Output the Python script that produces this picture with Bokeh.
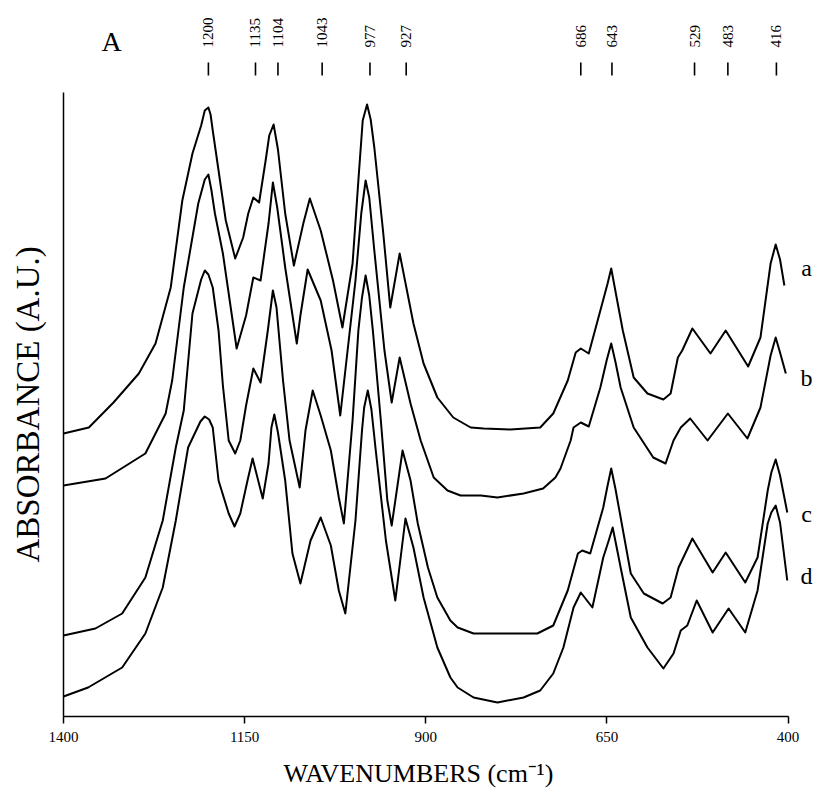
import math
from bokeh.plotting import figure
from bokeh.models import Range1d, FixedTicker, Title
from bokeh.embed import file_html
from bokeh.resources import INLINE
from bokeh.core.properties import value

# ---------------- data ----------------
wn_a = [1400, 1365, 1331, 1296, 1273, 1252, 1236, 1222, 1210, 1205,
        1200, 1197, 1194, 1186, 1176, 1163, 1152, 1145, 1138, 1130,
        1121, 1116, 1110, 1104, 1094, 1082, 1069, 1060, 1045, 1028,
        1015, 1001, 993, 987, 981, 976, 971, 959, 949, 936,
        917, 903, 884, 862, 838, 820, 783, 742, 724, 704,
        693, 686, 675, 659, 649, 644, 635, 628, 613, 594,
        572, 562, 552, 546, 532, 507, 486, 455, 438, 424,
        417, 411, 405]
abs_a = [2.74, 2.80, 3.05, 3.34, 3.64, 4.20, 5.07, 5.54, 5.82, 5.97,
         6.00, 5.93, 5.77, 5.37, 4.87, 4.49, 4.70, 4.94, 5.10, 5.05,
         5.47, 5.72, 5.83, 5.58, 4.94, 4.42, 4.84, 5.09, 4.77, 4.27,
         3.80, 4.44, 5.27, 5.87, 6.03, 5.88, 5.60, 4.77, 4.00, 4.54,
         3.84, 3.44, 3.10, 2.90, 2.80, 2.79, 2.78, 2.80, 2.94, 3.27,
         3.55, 3.59, 3.54, 3.97, 4.24, 4.39, 4.04, 3.77, 3.30, 3.14,
         3.08, 3.14, 3.50, 3.57, 3.79, 3.54, 3.77, 3.41, 3.70, 4.44,
         4.63, 4.48, 4.22]

wn_b = [1400, 1342, 1287, 1259, 1250, 1234, 1214, 1205, 1200, 1196,
        1191, 1180, 1161, 1148, 1138, 1128, 1117, 1111, 1105, 1094,
        1078, 1073, 1063, 1045, 1030, 1018, 997, 989, 983, 978,
        971, 957, 947, 936, 921, 907, 889, 870, 852, 824,
        801, 765, 738, 721, 714, 700, 696, 686, 675, 659,
        650, 644, 638, 631, 613, 586, 569, 558, 548, 535,
        511, 483, 456, 438, 424, 417, 411, 403]
abs_b = [2.22, 2.29, 2.54, 2.94, 3.27, 4.20, 5.04, 5.28, 5.33, 5.18,
         4.94, 4.54, 3.59, 3.92, 4.30, 4.27, 4.84, 5.25, 5.00, 4.40,
         3.64, 3.92, 4.38, 4.07, 3.57, 2.92, 4.27, 4.94, 5.27, 5.10,
         4.57, 3.57, 3.05, 3.50, 3.04, 2.67, 2.30, 2.17, 2.12, 2.12,
         2.10, 2.14, 2.19, 2.30, 2.39, 2.67, 2.80, 2.85, 2.81, 3.20,
         3.48, 3.64, 3.45, 3.20, 2.80, 2.50, 2.44, 2.67, 2.80, 2.89,
         2.67, 2.94, 2.69, 3.00, 3.52, 3.70, 3.55, 3.34]

wn_c = [1400, 1356, 1319, 1287, 1263, 1245, 1234, 1222, 1210, 1205,
        1200, 1194, 1186, 1180, 1172, 1163, 1156, 1148, 1138, 1128,
        1118, 1111, 1106, 1097, 1088, 1074, 1066, 1056, 1045, 1031,
        1020, 1013, 1001, 993, 988, 983, 978, 973, 962, 953,
        947, 932, 921, 911, 897, 884, 866, 856, 834, 787,
        746, 724, 704, 690, 684, 673, 655, 649, 644, 638,
        631, 617, 599, 573, 562, 551, 532, 504, 486, 459,
        442, 428, 423, 417, 411, 401]
abs_c = [0.72, 0.79, 0.94, 1.30, 1.87, 2.60, 2.97, 3.94, 4.28, 4.37,
         4.33, 4.20, 3.77, 3.22, 2.67, 2.54, 2.67, 3.02, 3.39, 3.25,
         3.77, 4.17, 4.00, 3.27, 2.67, 2.20, 2.77, 3.17, 2.92, 2.57,
         2.10, 1.84, 2.87, 3.77, 4.10, 4.32, 4.12, 3.77, 2.87, 2.07,
         1.82, 2.57, 2.27, 1.84, 1.40, 1.10, 0.87, 0.80, 0.74, 0.74,
         0.74, 0.82, 1.17, 1.54, 1.57, 1.54, 2.00, 2.22, 2.39, 2.18,
         1.90, 1.34, 1.14, 1.04, 1.10, 1.40, 1.69, 1.35, 1.55, 1.25,
         1.50, 2.17, 2.35, 2.48, 2.32, 1.95]

wn_d = [1400, 1366, 1319, 1287, 1263, 1245, 1228, 1211, 1205, 1199,
        1194, 1186, 1172, 1164, 1156, 1146, 1139, 1125, 1117, 1113,
        1109, 1104, 1094, 1084, 1073, 1059, 1045, 1031, 1020, 1011,
        997, 988, 985, 980, 975, 969, 955, 942, 928, 917,
        903, 884, 866, 856, 834, 801, 765, 742, 724, 710,
        696, 686, 670, 655, 647, 642, 637, 631, 617, 594,
        572, 558, 548, 539, 526, 504, 482, 459, 442, 428,
        423, 417, 411, 401]
abs_d = [0.11, 0.20, 0.40, 0.74, 1.20, 1.87, 2.60, 2.86, 2.91, 2.88,
         2.80, 2.27, 1.94, 1.81, 1.94, 2.27, 2.49, 2.09, 2.44, 2.80,
         2.93, 2.75, 2.27, 1.54, 1.24, 1.67, 1.90, 1.62, 1.17, 0.94,
         1.87, 2.77, 3.00, 3.17, 2.98, 2.57, 1.67, 1.07, 1.89, 1.60,
         1.10, 0.60, 0.30, 0.20, 0.10, 0.05, 0.10, 0.17, 0.34, 0.60,
         1.00, 1.15, 1.00, 1.50, 1.68, 1.80, 1.62, 1.40, 0.90, 0.60,
         0.39, 0.54, 0.77, 0.82, 1.07, 0.75, 0.99, 0.75, 1.17, 1.84,
         1.95, 2.02, 1.85, 1.27]

curve_names = ["a", "b", "c", "d"]
peak_labels = [1200, 1135, 1104, 1043, 977, 927, 686, 643, 529, 483, 416]
x_ticks = [1400, 1150, 900, 650, 400]

# ---------------- layout constants ----------------
PX_PER_WN = 0.7245
PX_PER_ABS = 100.0
W, H = 815, 806
LEFT = 63
FRAME_W = W - LEFT
FRAME_H = 716
Y0 = -0.09
SERIF = "Liberation Serif"

p = figure(width=W, height=H, output_backend="svg", toolbar_location=None,
           x_range=Range1d(1400, 1400 - FRAME_W / PX_PER_WN),
           y_range=Range1d(Y0, Y0 + FRAME_H / PX_PER_ABS),
           min_border_left=LEFT, min_border_right=0, min_border_top=0,
           min_border_bottom=H - FRAME_H)
p.grid.visible = False
p.outline_line_color = None
p.background_fill_color = "white"
p.border_fill_color = "white"

# bottom axis
xa = p.xaxis[0]
xa.bounds = (400, 1400)
xa.ticker = FixedTicker(ticks=x_ticks)
xa.minor_tick_line_color = None
xa.major_tick_in = 0
xa.major_tick_out = 7
xa.major_tick_line_width = 1.5
xa.axis_line_width = 1.5
xa.axis_line_color = "black"
xa.major_tick_line_color = "black"
xa.major_label_text_font = SERIF
xa.major_label_text_font_size = "15px"
xa.major_label_text_color = "black"
xa.major_label_standoff = 8

# left axis: only the line
ya = p.yaxis[0]
ya.bounds = (Y0, 6.15)
ya.ticker = FixedTicker(ticks=[])
ya.major_tick_line_color = None
ya.minor_tick_line_color = None
ya.major_label_text_font_size = "0px"
ya.axis_line_width = 1.5
ya.axis_line_color = "black"

# axis titles (side titles so they can be offset along the axis)
p.add_layout(Title(text="WAVENUMBERS (cm\u207b\u00b9)", align="left", offset=220,
                   text_font=SERIF, text_font_size="26px", text_font_style="normal",
                   text_color="black", vertical_align="bottom", standoff=24), "below")
# thin blank spacer between the left axis line and its title
p.add_layout(Title(text=" ", text_font_size="1px", standoff=4), "left")
p.add_layout(Title(text="ABSORBANCE (A.U.)", align="left", offset=154,
                   text_font=SERIF, text_font_size="33px", text_font_style="normal",
                   text_color="black", vertical_align="top", standoff=18), "left")

# curves
series = [(wn_a, abs_a), (wn_b, abs_b), (wn_c, abs_c), (wn_d, abs_d)]
for wx, ay in series:
    p.line(wx, ay, line_color="black", line_width=2, line_join="round")

# curve letters at right
ends = [ay[-1] for _, ay in series]
label_y = [ends[0] + 0.18, ends[1] - 0.04, ends[2] - 0.01, ends[3] + 0.05]
p.text(x=[374.5] * 4, y=label_y, text=curve_names, text_font=value(SERIF),
       text_font_size="24px", text_align="center", text_baseline="middle",
       text_color="black")

# peak position markers at top
n = len(peak_labels)
p.segment(x0=peak_labels, y0=[6.32] * n, x1=peak_labels, y1=[6.45] * n,
          line_color="black", line_width=1.6)
p.text(x=peak_labels, y=[6.60] * n, text=[str(v) for v in peak_labels],
       angle=math.pi / 2, text_font=value(SERIF), text_font_size="15px",
       text_align="left", text_baseline="middle", text_color="black")

# panel letter
p.text(x=[1333.7], y=[6.66], text=["A"], text_font=value(SERIF), text_font_size="28px",
       text_align="center", text_baseline="middle", text_color="black")

open("out.html", "w").write(file_html(p, INLINE))
